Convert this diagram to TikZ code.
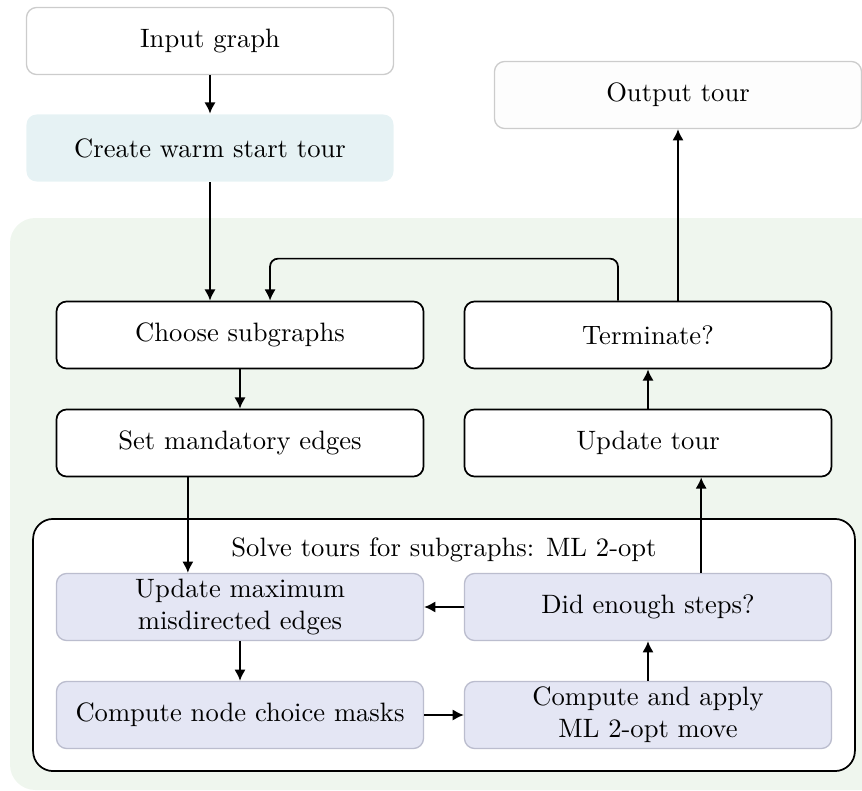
\documentclass[tikz,border=0pt]{standalone}
\usetikzlibrary{arrows.meta, positioning, calc}
\definecolor{inkcolor}{HTML}{000000}
\definecolor{paleborder}{HTML}{CCCCCC}
\definecolor{warmfill}{HTML}{E6F2F4}
\definecolor{loopfill}{HTML}{EFF6EE}
\definecolor{optfill}{HTML}{E4E6F4}
\definecolor{optborder}{HTML}{BBBDCE}
\definecolor{outfill}{HTML}{FDFDFD}

\begin{document}
\begin{tikzpicture}[
  x=0.376pt, y=-0.376pt,
  >=Latex, every node/.style={font=\normalsize},
  align=center, line width=0.65pt,
]

\tikzset{
  stepbox/.style={rectangle, rounded corners=3.8pt, draw=inkcolor, fill=white,
    minimum width=138pt, minimum height=25.2pt, inner sep=2pt},
  iobox/.style={stepbox, draw=paleborder, line width=0.5pt},
  warmbox/.style={stepbox, draw=none, fill=warmfill},
  optbox/.style={stepbox, draw=optborder, fill=optfill, line width=0.5pt},
  flowline/.style={-{Latex[length=4.2pt, width=4.2pt]}, inkcolor},
}

\clip (0,0) rectangle (862,791);

% ---- outer loop background ----
\fill[loopfill, rounded corners=9.5pt] (10,218) rectangle (900,790);

% ---- start / end ----
\node[iobox] (input) at (210,41) {Input graph};
\node[warmbox] (warm) at (210,148) {Create warm start tour};
\node[iobox, fill=outfill] (output) at (678,95) {Output tour};

% ---- outer loop ----
\node[stepbox] (choose) at (240,335) {Choose subgraphs};
\node[stepbox] (terminate) at (648,335) {Terminate?};
\node[stepbox] (mandatory) at (240,443) {Set mandatory edges};
\node[stepbox] (updtour) at (648,443) {Update tour};

% ---- ML 2-opt solver ----
\node[rectangle, rounded corners=7.5pt, draw=inkcolor, fill=white,
  minimum width=309pt, minimum height=94.8pt] (solve) at (444,645) {};
\node (solvetitle) at (444,550) {Solve tours for subgraphs: ML 2-opt};
\node[optbox] (updmax) at (240,607) {Update maximum\\misdirected edges};
\node[optbox] (enough) at (648,607) {Did enough steps?};
\node[optbox] (masks) at (240,715) {Compute node choice masks};
\node[optbox] (move) at (648,715) {Compute and apply\\ML 2-opt move};

\draw[flowline] (input) -- (warm);
\draw[flowline] (warm.south) -- (warm.south |- choose.north);
\draw[flowline] (choose) -- (mandatory);
\draw[flowline] ([xshift=-19.6pt]mandatory.south) -- ([xshift=-19.6pt]updmax.north);
\draw[flowline] (updmax) -- (masks);
\draw[flowline] (masks) -- (move);
\draw[flowline] (move) -- (enough);
\draw[flowline] (enough) -- (updmax);
\draw[flowline] ([xshift=20pt]enough.north) -- ([xshift=20pt]updtour.south);
\draw[flowline] (updtour) -- (terminate);
\draw[flowline, rounded corners=3pt]
  ([xshift=-11.3pt]terminate.north) -- ++(0,-42) -| ([xshift=11.3pt]choose.north);
\draw[flowline] (terminate.north -| output.south) -- (output.south);

\end{tikzpicture}
\end{document}
